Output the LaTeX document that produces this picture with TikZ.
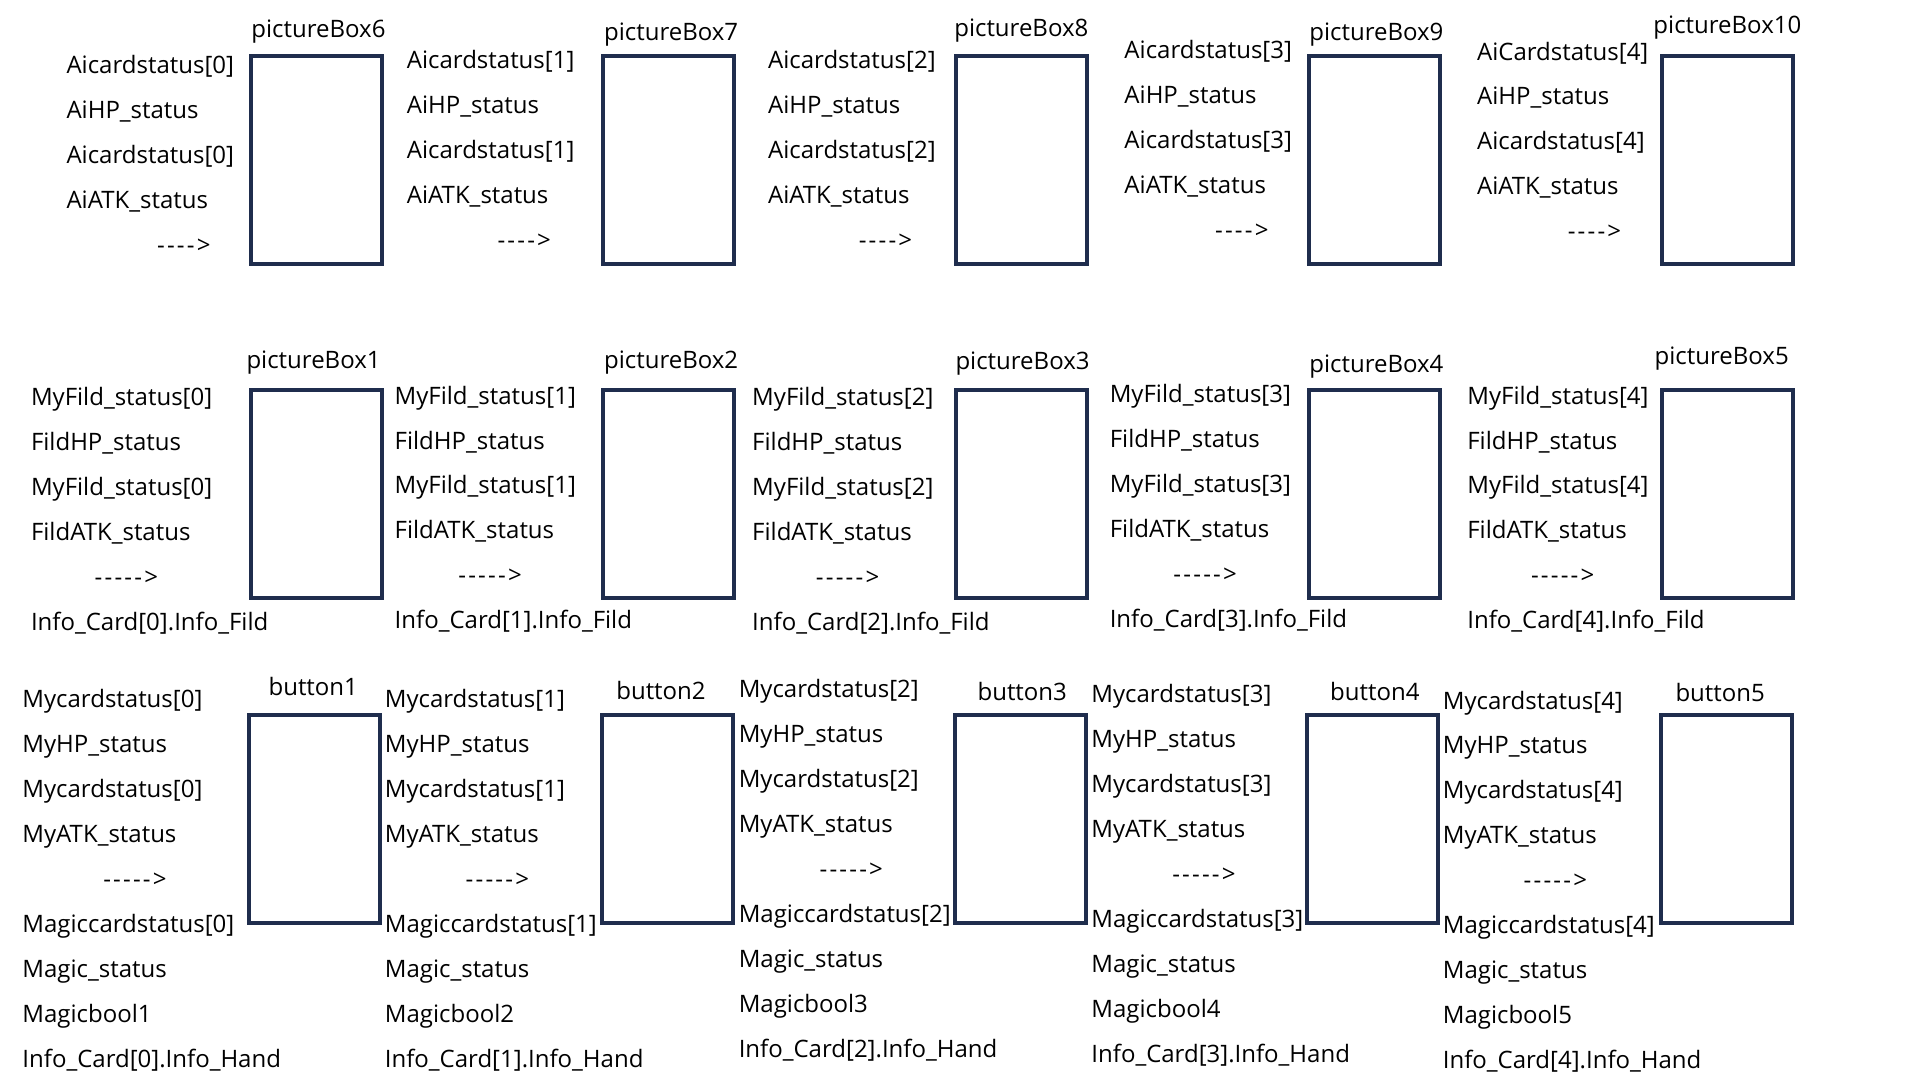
\documentclass[tikz,border=0pt]{standalone}
\usepackage{fontspec}
\setmainfont{Open Sans}
\usetikzlibrary{positioning}

\definecolor{framecol}{RGB}{31,45,77}

\tikzset{
  lbl/.style={anchor=west, inner sep=0pt, text height=8.6pt, text depth=0pt,
    font=\fontsize{12}{14}\selectfont},
  frame/.style={draw=framecol, line width=2pt, anchor=north west, inner sep=0pt,
    minimum width=65.5pt, minimum height=104pt},
}
\newcommand{\dashfour}{-\kern1.1pt-\kern1.1pt-\kern1.1pt-\kern1.1pt>}
\newcommand{\dashfive}{-\kern1.1pt-\kern1.1pt-\kern1.1pt-\kern1.1pt-\kern1.1pt>}

\begin{document}
\begin{tikzpicture}[x=0.6122pt, y=-0.6122pt]
  \useasboundingbox (0,0) rectangle (1568,882);
  % row 1: ai cards
  \foreach \i/\k/\nm/\lx/\ly/\bx/\tx/\ty in {
      0/6/Aicardstatus/54/53/203/205/24,
      1/7/Aicardstatus/332/49/491/493/26,
      2/8/Aicardstatus/627/49/779/779/23,
      3/9/Aicardstatus/918/41/1067/1069/26,
      4/10/AiCardstatus/1206/42/1356/1350/20}{
    \node[lbl] (ai\i-1) at (\lx,\ly) {\nm[\i]};
    \node[lbl] (ai\i-2) at (\lx,\ly+36.7) {AiHP\_status};
    \node[lbl] (ai\i-3) at (\lx,\ly+73.4) {Aicardstatus[\i]};
    \node[lbl] (ai\i-4) at (\lx,\ly+110.1) {AiATK\_status};
    \node[lbl] (ai\i-5) at (\lx+74,\ly+146.8) {\dashfour};
    \node[frame] (pb\k) at (\bx,44) {};
    \node[lbl] (pb\k-t) at (\tx,\ty) {pictureBox\k};
  }
  % row 2: field
  \foreach \i/\k/\lx/\ly/\bx/\tx/\ty in {
      0/1/25/324/203/201/294,
      1/2/322/323/491/493/294,
      2/3/614/324/779/780/295,
      3/4/906/322/1067/1069/297,
      4/5/1198/323/1356/1351/291}{
    \node[lbl] (fd\i-1) at (\lx,\ly) {MyFild\_status[\i]};
    \node[lbl] (fd\i-2) at (\lx,\ly+36.7) {FildHP\_status};
    \node[lbl] (fd\i-3) at (\lx,\ly+73.4) {MyFild\_status[\i]};
    \node[lbl] (fd\i-4) at (\lx,\ly+110.1) {FildATK\_status};
    \node[lbl] (fd\i-5) at (\lx+52,\ly+146.8) {\dashfive};
    \node[lbl] (fd\i-6) at (\lx,\ly+183.5) {Info\_Card[\i].Info\_Fild};
    \node[frame] (pb\k) at (\bx,317) {};
    \node[lbl] (pb\k-t) at (\tx,\ty) {pictureBox\k};
  }
  % row 3: hand
  \foreach \i/\k/\lx/\ly/\bx/\tx/\ty in {
      0/1/18/571/202/219/561,
      1/2/314/571/490/503/564,
      2/3/603/563/778/798/565,
      3/4/891/567/1066/1086/565,
      4/5/1178/572/1355/1368/566}{
    \node[lbl] (hd\i-1) at (\lx,\ly) {Mycardstatus[\i]};
    \node[lbl] (hd\i-2) at (\lx,\ly+36.7) {MyHP\_status};
    \node[lbl] (hd\i-3) at (\lx,\ly+73.4) {Mycardstatus[\i]};
    \node[lbl] (hd\i-4) at (\lx,\ly+110.1) {MyATK\_status};
    \node[lbl] (hd\i-5) at (\lx+66,\ly+146.8) {\dashfive};
    \node[lbl] (hd\i-6) at (\lx,\ly+183.5) {Magiccardstatus[\i]};
    \node[lbl] (hd\i-7) at (\lx,\ly+220.2) {Magic\_status};
    \node[lbl] (hd\i-8) at (\lx,\ly+256.9) {Magicbool\k};
    \node[lbl] (hd\i-9) at (\lx,\ly+293.6) {Info\_Card[\i].Info\_Hand};
    \node[frame] (bt\k) at (\bx,582) {};
    \node[lbl] (bt\k-t) at (\tx,\ty) {button\k};
  }
\end{tikzpicture}
\end{document}
